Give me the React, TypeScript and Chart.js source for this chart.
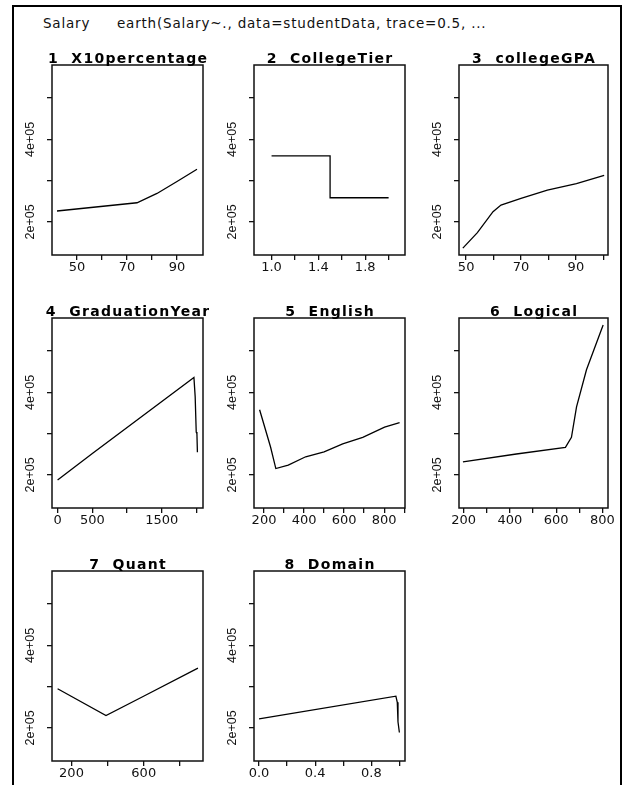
import React, { useEffect, useRef } from 'react';
import { Chart, registerables } from 'chart.js';
Chart.register(...registerables);

// ---- shared y axis ----
const yMin = 120000;
const yMax = 580000;
const yTicks = [200000, 300000, 400000, 500000];
const yTickLabels = ['2e+05', '', '4e+05', ''];

// ---- panel titles ----
const titles = [
  '1  X10percentage',
  '2  CollegeTier',
  '3  collegeGPA',
  '4  GraduationYear',
  '5  English',
  '6  Logical',
  '7  Quant',
  '8  Domain',
];

// ---- 1 X10percentage ----
const x10X = [42, 74, 82, 90, 98];
const x10Y = [226500, 246500, 269000, 298000, 327700];
const x10Ticks = [50, 60, 70, 80, 90];
const x10TickLabels = ['50', '', '70', '', '90'];
const x10Range = [40, 100.4];

// ---- 2 CollegeTier ----
const tierX = [1, 1.5, 2];
const tierY = [359800, 258600, 258600];
const tierTicks = [1, 1.2, 1.4, 1.6, 1.8, 2.0];
const tierTickLabels = ['1.0', '', '1.4', '', '1.8', ''];
const tierRange = [0.85, 2.14];

// ---- 3 collegeGPA ----
const gpaX = [48.8, 54.1, 59.8, 62.7, 70, 79.6, 90.2, 100.3];
const gpaY = [136600, 174200, 224800, 241000, 257000, 277000, 293000, 313000];
const gpaTicks = [50, 60, 70, 80, 90, 100];
const gpaTickLabels = ['50', '', '70', '', '90', ''];
const gpaRange = [47.4, 101.7];

// ---- 4 GraduationYear ----
const gradX = [0, 500, 1962, 1980, 1995, 2005, 2012];
const gradY = [188000, 252000, 436000, 389000, 304000, 300000, 255000];
const gradTicks = [0, 500, 1000, 1500, 2000];
const gradTickLabels = ['0', '500', '', '1500', ''];
const gradRange = [-80.5, 2092.5];

// ---- 5 English ----
const engX = [178, 233, 259, 321, 408, 500, 593, 693, 802, 877];
const engY = [358000, 267000, 215500, 224000, 244000, 256000, 275000, 291000, 316000, 326500];
const engTicks = [200, 300, 400, 500, 600, 700, 800, 900];
const engTickLabels = ['200', '', '400', '', '600', '', '800', ''];
const engRange = [150, 904];

// ---- 6 Logical ----
const logX = [197, 428, 640, 666, 688, 731, 803];
const logY = [231800, 250700, 266800, 291000, 364800, 454600, 563000];
const logTicks = [200, 300, 400, 500, 600, 700, 800];
const logTickLabels = ['200', '', '400', '', '600', '', '800'];
const logRange = [180, 824];

// ---- 7 Quant ----
const quantX = [123, 391, 599, 900];
const quantY = [294800, 230000, 276800, 344800];
const quantTicks = [200, 400, 600, 800];
const quantTickLabels = ['200', '', '600', ''];
const quantRange = [92, 928];

// ---- 8 Domain ----
const domX = [0, 0.975, 0.985, 0.99, 1.0];
const domY = [222000, 277000, 262000, 215000, 189000];
const domTicks = [0, 0.2, 0.4, 0.6, 0.8, 1.0];
const domTickLabels = ['0.0', '', '0.4', '', '0.8', ''];
const domRange = [-0.036, 1.04];

type PanelData = {
  title: string;
  xs: number[];
  ys: number[];
  ticks: number[];
  labels: string[];
  range: number[];
  stepped?: boolean;
};

const panels: PanelData[] = [
  { title: titles[0], xs: x10X, ys: x10Y, ticks: x10Ticks, labels: x10TickLabels, range: x10Range },
  { title: titles[1], xs: tierX, ys: tierY, ticks: tierTicks, labels: tierTickLabels, range: tierRange, stepped: true },
  { title: titles[2], xs: gpaX, ys: gpaY, ticks: gpaTicks, labels: gpaTickLabels, range: gpaRange },
  { title: titles[3], xs: gradX, ys: gradY, ticks: gradTicks, labels: gradTickLabels, range: gradRange },
  { title: titles[4], xs: engX, ys: engY, ticks: engTicks, labels: engTickLabels, range: engRange },
  { title: titles[5], xs: logX, ys: logY, ticks: logTicks, labels: logTickLabels, range: logRange },
  { title: titles[6], xs: quantX, ys: quantY, ticks: quantTicks, labels: quantTickLabels, range: quantRange },
  { title: titles[7], xs: domX, ys: domY, ticks: domTicks, labels: domTickLabels, range: domRange },
];

// ---- layout ----
const COL_LEFT = [52, 254, 459];
const COL_W = [151, 151, 149];
const ROW_TOP = [65, 318, 571];
const BOX_H = 190;
const Y_AXIS_W = 45;
const TITLE_H = 24;
const X_AXIS_H = 30;
const PAD_R = 6;

const framePlugin = {
  id: 'panelFrame',
  afterDraw(chart: any, _args: any, opts: any) {
    const { ctx, chartArea: a, scales } = chart;
    ctx.save();
    ctx.strokeStyle = '#111';
    ctx.lineWidth = 1.5;
    ctx.strokeRect(a.left, a.top, a.right - a.left, a.bottom - a.top);
    // rotated y labels
    const ys = scales.y;
    ctx.font = '12.5px "Liberation Sans", Arial, sans-serif';
    ctx.fillStyle = '#111';
    ctx.textAlign = 'center';
    ctx.textBaseline = 'middle';
    yTicks.forEach((v, i) => {
      const lab = yTickLabels[i];
      if (!lab) return;
      const py = ys.getPixelForValue(v);
      ctx.save();
      ctx.translate(a.left - 21, py);
      ctx.rotate(-Math.PI / 2);
      ctx.fillText(lab, 0, 0);
      ctx.restore();
    });
    // panel title
    if (opts && opts.title) {
      ctx.font = 'bold 14px "DejaVu Sans", sans-serif';
      (ctx as any).letterSpacing = '1.3px';
      ctx.fillStyle = '#000';
      ctx.textAlign = 'center';
      ctx.textBaseline = 'alphabetic';
      ctx.fillText(opts.title, (a.left + a.right) / 2 + 0.6, a.top - 2);
      (ctx as any).letterSpacing = '0px';
    }
    ctx.restore();
  },
};

function Panel({ p, left, top, w }: { p: PanelData; left: number; top: number; w: number }) {
  const ref = useRef<HTMLCanvasElement | null>(null);
  const cw = Y_AXIS_W + w + PAD_R;
  const ch = TITLE_H + BOX_H + X_AXIS_H;
  useEffect(() => {
    if (!ref.current) return;
    const chart = new Chart(ref.current, {
      type: 'line',
      data: {
        datasets: [
          {
            data: p.xs.map((x, i) => ({ x, y: p.ys[i] })),
            borderColor: '#000',
            borderWidth: 1.3,
            pointRadius: 0,
            tension: 0,
            fill: false,
            stepped: p.stepped ? 'before' : false,
          },
        ],
      },
      options: {
        animation: false,
        responsive: false,
        devicePixelRatio: 1,
        events: [],
        layout: { padding: { left: 0, right: PAD_R, top: TITLE_H, bottom: 0 }, autoPadding: false },
        plugins: {
          legend: { display: false },
          tooltip: { enabled: false },
          title: { display: false },
          panelFrame: { title: p.title },
        },
        scales: {
          x: {
            type: 'linear',
            position: 'bottom',
            min: p.range[0],
            max: p.range[1],
            afterBuildTicks: (s: any) => {
              s.ticks = p.ticks.map((v) => ({ value: v }));
            },
            afterFit: (s: any) => {
              s.height = X_AXIS_H;
              s.paddingLeft = 0;
              s.paddingRight = 0;
            },
            ticks: {
              autoSkip: false,
              maxRotation: 0,
              minRotation: 0,
              padding: 0,
              color: '#111',
              font: { family: '"DejaVu Sans", sans-serif', size: 13 },
              callback: (v: any) => {
                const idx = p.ticks.findIndex((t) => Math.abs(t - v) < 1e-9);
                return idx >= 0 ? p.labels[idx] : '';
              },
            },
            grid: { drawOnChartArea: false, drawTicks: true, tickLength: 5, color: '#111', lineWidth: 1.3 },
            border: { display: false },
          },
          y: {
            type: 'linear',
            position: 'left',
            min: yMin,
            max: yMax,
            afterBuildTicks: (s: any) => {
              s.ticks = yTicks.map((v) => ({ value: v }));
            },
            afterFit: (s: any) => {
              s.width = Y_AXIS_W;
              s.paddingTop = 0;
              s.paddingBottom = 0;
            },
            ticks: { display: false },
            grid: { drawOnChartArea: false, drawTicks: true, tickLength: 5, color: '#111', lineWidth: 1.3 },
            border: { display: false },
          },
        },
      },
      plugins: [framePlugin],
    } as any);
    return () => chart.destroy();
  }, [p]);
  return (
    <canvas
      ref={ref}
      width={cw}
      height={ch}
      style={{ position: 'absolute', left: left - Y_AXIS_W, top: top - TITLE_H, width: cw, height: ch }}
    />
  );
}

const subStyle: React.CSSProperties = {
  position: 'absolute',
  top: 15,
  font: '13.5px "DejaVu Sans", sans-serif',
  letterSpacing: '0.8px',
  lineHeight: '16px',
  color: '#111',
  whiteSpace: 'pre',
};

export default function App() {
  return (
    <div style={{ position: 'fixed', left: 0, top: 0, width: 622, height: 785, background: '#fff', overflow: 'hidden' }}>
      <div
        style={{
          position: 'absolute',
          left: 12,
          top: 5,
          width: 606,
          height: 820,
          borderLeft: '2px solid #000',
          borderTop: '2px solid #000',
          borderRight: '2px solid #000',
        }}
      />
      <div style={{ ...subStyle, left: 43 }}>Salary</div>
      <div style={{ ...subStyle, left: 117 }}>earth(Salary~., data=studentData, trace=0.5, ...</div>
      {panels.map((p, i) => (
        <Panel key={i} p={p} left={COL_LEFT[i % 3]} top={ROW_TOP[Math.floor(i / 3)]} w={COL_W[i % 3]} />
      ))}
    </div>
  );
}
